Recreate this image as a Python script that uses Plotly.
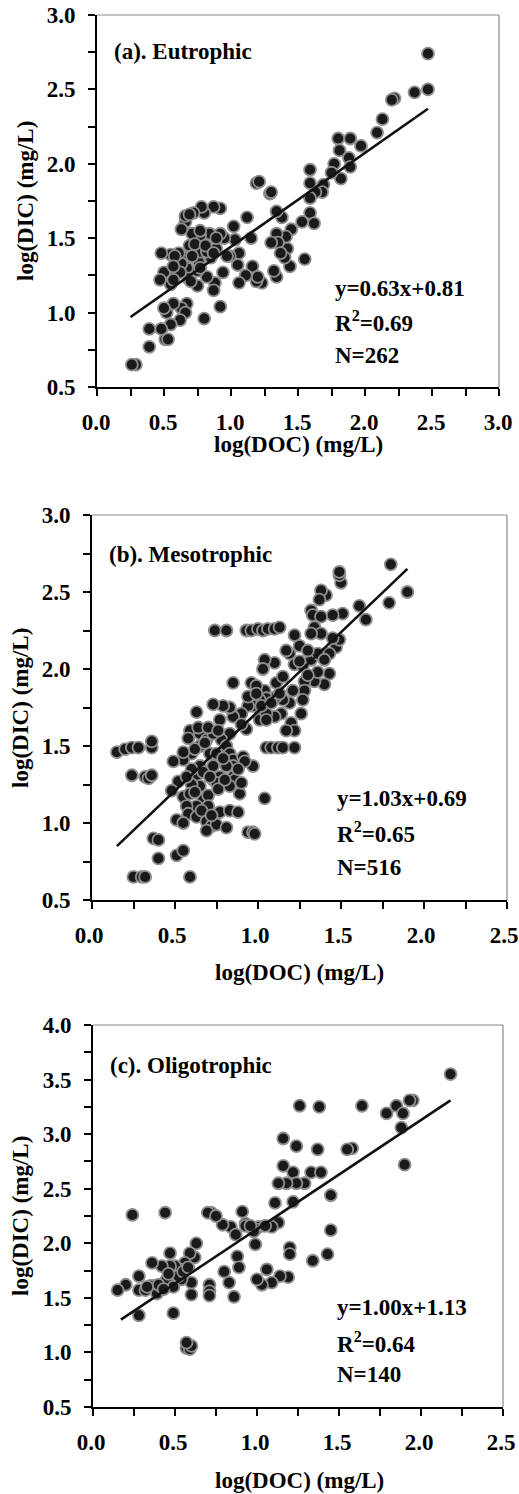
import plotly.graph_objects as go

# ---------------- data ----------------
eu_doc = [2.47, 2.47, 2.37, 2.22, 2.20, 2.13, 2.09, 1.97, 1.89, 1.80, 1.81, 1.88, 1.89, 1.77, 1.82, 1.75,
          1.69, 1.68, 1.63, 1.59, 1.59, 1.59, 1.59, 1.62, 1.53, 1.55, 1.45, 1.44, 1.42, 1.41, 1.40, 1.38,
          1.34, 1.34, 1.35, 1.37, 1.34, 1.32, 1.30, 1.29, 1.30, 1.19, 1.21, 1.23, 1.19, 1.16, 1.20, 1.12,
          1.15, 1.11, 1.06, 1.05, 1.03, 1.02, 1.06, 0.99, 0.97, 0.95, 0.94, 0.92, 0.92, 0.92, 0.89, 0.88,
          0.87, 0.87, 0.85, 0.84, 0.82, 0.80, 0.78, 0.78, 0.77, 0.80, 0.76, 0.75, 0.75, 0.72, 0.71, 0.69,
          0.67, 0.67, 0.66, 0.66, 0.68, 0.67, 0.63, 0.66, 0.62, 0.63, 0.61, 0.59, 0.57, 0.55, 0.55, 0.55,
          0.52, 0.51, 0.53, 0.50, 0.50, 0.48, 0.47, 0.48, 0.39, 0.39, 0.29, 0.26,
          0.77, 0.82, 0.73, 0.81, 0.89, 0.77, 0.70, 0.62, 0.57, 0.71, 0.87, 0.77, 0.69, 0.63, 0.58, 0.57]
eu_dic = [2.74, 2.50, 2.48, 2.44, 2.43, 2.30, 2.21, 2.12, 2.17, 2.17, 2.09, 2.04, 1.98, 2.00, 1.90, 1.94,
          1.86, 1.81, 1.81, 1.96, 1.87, 1.77, 1.67, 1.60, 1.61, 1.36, 1.56, 1.31, 1.43, 1.51, 1.37, 1.64,
          1.68, 1.53, 1.47, 1.40, 1.24, 1.28, 1.47, 1.80, 1.81, 1.87, 1.88, 1.20, 1.21, 1.31, 1.24, 1.64,
          1.50, 1.25, 1.20, 1.32, 1.49, 1.58, 1.40, 1.38, 1.38, 1.50, 1.27, 1.04, 1.53, 1.70, 1.43, 1.20,
          1.15, 1.71, 1.37, 1.53, 1.24, 1.67, 1.71, 1.47, 1.52, 0.96, 1.34, 1.18, 1.28, 1.67, 1.53, 1.45,
          1.30, 1.37, 1.61, 1.65, 1.23, 1.06, 1.03, 1.00, 0.95, 1.33, 1.40, 1.27, 1.06, 1.19, 1.39, 0.92,
          1.00, 0.82, 0.82, 1.03, 1.27, 1.40, 1.22, 0.89, 0.89, 0.77, 0.65, 0.65,
          1.41, 1.41, 1.46, 1.45, 1.50, 1.30, 1.21, 1.27, 1.22, 1.38, 1.40, 1.55, 1.66, 1.56, 1.38, 1.31]

meso_doc = [1.80, 1.90, 1.79, 1.65, 1.61, 1.51, 1.50, 1.49, 1.49, 1.45, 1.41, 1.38, 1.37, 1.32, 1.33, 1.38,
            1.34, 1.38, 1.32, 1.25, 1.22, 1.19, 1.17, 1.22, 1.27, 1.32, 1.36, 1.43, 1.40, 1.34, 1.28, 1.28,
            1.27, 1.26, 1.21, 1.19, 1.15, 1.20, 1.22, 1.17, 1.14, 1.10, 1.11, 1.11, 1.10, 1.04, 1.03, 1.04,
            1.05, 1.01, 1.02, 1.01, 0.97, 0.94, 0.96, 0.99, 0.94, 0.93, 0.90, 0.85, 0.85, 0.83, 0.79, 0.73,
            0.77, 0.83, 0.78, 0.63, 0.59, 0.58, 0.65, 0.69, 0.73, 0.65, 0.71, 0.81, 0.83, 0.85, 0.91, 0.97,
            0.85, 0.81, 0.73, 0.65, 0.60, 0.55, 0.55, 0.49, 0.63, 0.73, 0.77, 0.85, 0.86, 0.83, 0.75, 0.65,
            0.60, 0.52, 0.48, 0.55, 0.59, 0.67, 0.70, 0.89, 1.04, 0.63, 0.57, 0.70, 0.77, 0.83, 0.88, 0.58,
            0.63, 0.51, 0.55, 0.69, 0.72, 0.75, 0.81, 0.69, 0.94, 0.97, 0.98, 0.37, 0.40, 0.51, 0.55, 0.40,
            0.25, 0.30, 0.32, 0.59, 0.15, 0.20, 0.24, 0.28, 0.36, 0.36, 0.24, 0.32, 0.34, 0.36, 0.74, 0.81,
            0.93, 0.96, 1.00, 1.03, 1.06, 1.10, 1.13, 1.05, 1.08, 1.12, 1.15, 1.22, 0.92, 1.47, 1.49, 1.43,
            1.05, 1.05, 0.62, 0.68, 0.75, 0.79, 0.67, 0.71, 0.76, 0.80, 0.62, 0.66, 0.72, 0.60, 0.88, 0.90,
            0.57, 0.64, 0.70, 0.76, 1.02, 1.08, 1.15, 1.25, 1.30, 1.45, 1.40, 1.36, 1.30, 1.13, 0.99, 0.90]
meso_dic = [2.68, 2.50, 2.43, 2.32, 2.41, 2.36, 2.56, 2.61, 2.63, 2.35, 2.48, 2.51, 2.45, 2.38, 2.35, 2.34,
            2.27, 2.23, 2.23, 2.15, 2.22, 2.10, 2.12, 2.03, 2.02, 2.06, 2.10, 1.97, 1.90, 1.92, 1.92, 1.86,
            1.80, 1.71, 1.86, 1.78, 1.80, 1.65, 1.60, 1.60, 1.71, 1.69, 1.82, 1.91, 2.04, 2.06, 2.00, 1.86,
            1.81, 1.80, 1.71, 1.67, 1.76, 1.76, 1.91, 1.89, 1.82, 1.61, 1.71, 1.69, 1.91, 1.75, 1.76, 1.77,
            1.67, 1.58, 1.54, 1.72, 1.60, 1.55, 1.58, 1.54, 1.58, 1.50, 1.45, 1.50, 1.45, 1.41, 1.43, 1.37,
            1.37, 1.37, 1.37, 1.37, 1.45, 1.41, 1.46, 1.40, 1.31, 1.28, 1.30, 1.30, 1.28, 1.24, 1.26, 1.24,
            1.25, 1.27, 1.21, 1.17, 1.19, 1.15, 1.18, 1.19, 1.16, 1.11, 1.11, 1.11, 1.07, 1.08, 1.07, 1.06,
            1.04, 1.02, 1.00, 1.01, 0.98, 0.99, 0.97, 0.95, 0.94, 0.94, 0.93, 0.90, 0.89, 0.79, 0.82, 0.77,
            0.65, 0.65, 0.65, 0.65, 1.46, 1.48, 1.49, 1.49, 1.49, 1.53, 1.31, 1.30, 1.29, 1.31, 2.25, 2.25,
            2.25, 2.25, 2.26, 2.25, 2.26, 2.26, 2.27, 1.49, 1.49, 1.49, 1.49, 1.49, 1.40, 2.14, 2.19, 2.10,
            1.71, 1.67, 1.48, 1.52, 1.45, 1.42, 1.33, 1.30, 1.22, 1.28, 1.20, 1.08, 1.05, 1.35, 1.35, 1.26,
            1.30, 1.62, 1.62, 1.60, 1.76, 1.78, 1.95, 2.05, 2.12, 2.20, 2.06, 1.98, 1.96, 1.84, 1.84, 1.64]

oligo_doc = [2.18, 1.95, 1.93, 1.85, 1.79, 1.89, 1.88, 1.90, 1.64, 1.38, 1.26, 1.58, 1.55, 1.37, 1.24, 1.16,
             1.16, 1.22, 1.33, 1.39, 1.45, 1.11, 1.22, 1.29, 1.24, 1.18, 1.13, 1.13, 1.09, 1.01, 0.99, 0.93,
             0.91, 0.84, 0.79, 0.87, 0.98, 0.72, 0.70, 0.75, 0.99, 1.20, 1.20, 1.43, 1.34, 1.45, 1.19, 1.14,
             1.09, 1.06, 1.03, 1.00, 0.88, 0.89, 0.80, 0.83, 0.86, 0.71, 0.71, 0.71, 0.63, 0.62, 0.59, 0.60,
             0.60, 0.56, 0.53, 0.54, 0.50, 0.47, 0.47, 0.42, 0.45, 0.49, 0.37, 0.36, 0.35, 0.28, 0.32, 0.39,
             0.28, 0.20, 0.15, 0.49, 0.28, 0.24, 0.44, 0.57, 0.59, 0.60, 0.57,
             0.40, 0.43, 0.52, 0.55, 0.46, 0.33, 0.58, 0.93, 0.96, 1.05]
oligo_dic = [3.55, 3.31, 3.31, 3.26, 3.19, 3.19, 3.06, 2.72, 3.26, 3.25, 3.26, 2.87, 2.86, 2.86, 2.89, 2.96,
             2.71, 2.65, 2.65, 2.65, 2.44, 2.37, 2.38, 2.55, 2.55, 2.55, 2.55, 2.19, 2.15, 2.15, 2.13, 2.18,
             2.29, 2.15, 2.17, 2.08, 2.11, 2.28, 2.28, 2.25, 1.99, 1.96, 1.90, 1.90, 1.84, 2.12, 1.69, 1.70,
             1.64, 1.76, 1.62, 1.67, 1.88, 1.78, 1.74, 1.64, 1.51, 1.62, 1.56, 1.52, 2.00, 1.87, 1.91, 1.64,
             1.53, 1.82, 1.76, 1.67, 1.79, 1.91, 1.79, 1.79, 1.67, 1.60, 1.61, 1.82, 1.61, 1.57, 1.57, 1.54,
             1.70, 1.62, 1.57, 1.36, 1.34, 2.26, 2.28, 1.04, 1.03, 1.06, 1.09,
             1.62, 1.58, 1.70, 1.74, 1.72, 1.60, 1.78, 2.16, 2.16, 2.16]

# regression line end points
eu_fit_x, eu_fit_y = [0.25, 2.47], [0.97, 2.37]
meso_fit_x, meso_fit_y = [0.15, 1.90], [0.85, 2.65]
oligo_fit_x, oligo_fit_y = [0.17, 2.18], [1.30, 3.31]

panel_titles = ["(a). Eutrophic", "(b). Mesotrophic", "(c). Oligotrophic"]
equations = [["y=0.63x+0.81", "R<sup>2</sup>=0.69", "N=262"],
             ["y=1.03x+0.69", "R<sup>2</sup>=0.65", "N=516"],
             ["y=1.00x+1.13", "R<sup>2</sup>=0.64", "N=140"]]
x_label = "log(DOC) (mg/L)"
y_label = "log(DIC) (mg/L)"
x_ranges = [[0, 3.0], [0, 2.5], [0, 2.5]]
y_ranges = [[0.5, 3.0], [0.5, 3.0], [0.5, 4.0]]
x_ticks = [[0.0, 0.5, 1.0, 1.5, 2.0, 2.5, 3.0], [0.0, 0.5, 1.0, 1.5, 2.0, 2.5], [0.0, 0.5, 1.0, 1.5, 2.0, 2.5]]
y_ticks = [[0.5, 1.0, 1.5, 2.0, 2.5, 3.0], [0.5, 1.0, 1.5, 2.0, 2.5, 3.0],
           [0.5, 1.0, 1.5, 2.0, 2.5, 3.0, 3.5, 4.0]]

# ---------------- layout geometry (page pixels) ----------------
W, H = 519, 1494
FONT = "Liberation Serif"
FS = 23
# (left, right, top, bottom) of each plot frame
frames = [(97, 499, 15, 387), (92, 507, 515, 900), (93, 503, 1025, 1407)]
xlabel_shift = [-1, -3, -2]
title_pos = [(112, 52), (107, 555), (108, 1065)]
eq_pos = [(333, [289, 321, 355]), (335, [798, 832, 867]), (335, [1307, 1342, 1374])]
xlab_pos = [(298, 445), (299, 972), (299, 1480)]
ylab_pos = [(25, 201), (20, 708), (20, 1216)]

def px(x):
    return x / W

def py(y):
    return 1 - y / H

fig = go.Figure()
series = [(eu_doc, eu_dic, eu_fit_x, eu_fit_y),
          (meso_doc, meso_dic, meso_fit_x, meso_fit_y),
          (oligo_doc, oligo_dic, oligo_fit_x, oligo_fit_y)]

annotations = []
shapes = []
for i, (xd, yd, fx, fy) in enumerate(series):
    n = "" if i == 0 else str(i + 1)
    xa, ya = "x" + n, "y" + n
    fig.add_trace(go.Scatter(x=xd, y=yd, mode="markers", xaxis=xa, yaxis=ya,
                             marker=dict(size=12, color="#1a1a1a",
                                         line=dict(color="#8f8f8f", width=1.8)),
                             showlegend=False, hoverinfo="skip", cliponaxis=False))
    fig.add_trace(go.Scatter(x=fx, y=fy, mode="lines", xaxis=xa, yaxis=ya,
                             line=dict(color="#111111", width=2.6),
                             showlegend=False, hoverinfo="skip"))
    l, r, t, b = frames[i]
    axcommon = dict(showline=True, linecolor="black", linewidth=2, ticks="outside",
                    ticklen=7, tickwidth=2, tickcolor="black", showgrid=False, zeroline=False,
                    automargin=False, ticklabeloverflow="allow",
                    tickfont=dict(family=FONT, size=23, color="black"),
                    minor=dict(dtick=0.25, ticks="outside", ticklen=7, tickwidth=2,
                               tickcolor="black", showgrid=False))
    fig.layout["xaxis" + n] = dict(domain=[px(l), px(r)], range=x_ranges[i], anchor=ya,
                                   tickvals=x_ticks[i],
                                   ticktext=[f"<b>{v:.1f}</b>" for v in x_ticks[i]],
                                   ticklabelstandoff=6, ticklabelshift=xlabel_shift[i], **axcommon)
    fig.layout["yaxis" + n] = dict(domain=[py(b), py(t)], range=y_ranges[i], anchor=xa,
                                   tickvals=y_ticks[i],
                                   ticktext=[f"<b>{v:.1f}</b>" for v in y_ticks[i]],
                                   ticklabelstandoff=8, **axcommon)
    # thin gray top / right borders
    shapes.append(dict(type="line", xref="paper", yref="paper", x0=px(l), x1=px(r), y0=py(t), y1=py(t),
                       line=dict(color="#8a8a8a", width=1.2)))
    shapes.append(dict(type="line", xref="paper", yref="paper", x0=px(r), x1=px(r), y0=py(t), y1=py(b),
                       line=dict(color="#8a8a8a", width=1.2)))
    annotations.append(dict(text="<b>" + panel_titles[i] + "</b>", x=px(title_pos[i][0]), y=py(title_pos[i][1]),
                            xref="paper", yref="paper", xanchor="left", yanchor="middle", showarrow=False,
                            font=dict(family=FONT, size=FS, color="black")))
    ex, eys = eq_pos[i]
    for txt, ey in zip(equations[i], eys):
        annotations.append(dict(text="<b>" + txt + "</b>", x=px(ex), y=py(ey), xref="paper", yref="paper",
                                xanchor="left", yanchor="middle", showarrow=False,
                                font=dict(family=FONT, size=FS, color="black")))
    annotations.append(dict(text="<b>" + x_label + "</b>", x=px(xlab_pos[i][0]), y=py(xlab_pos[i][1]),
                            xref="paper", yref="paper", xanchor="center", yanchor="middle", showarrow=False,
                            font=dict(family=FONT, size=FS, color="black")))
    annotations.append(dict(text="<b>" + y_label + "</b>", x=px(ylab_pos[i][0]), y=py(ylab_pos[i][1]),
                            xref="paper", yref="paper", xanchor="center", yanchor="middle", showarrow=False,
                            textangle=-90, font=dict(family=FONT, size=FS, color="black")))

fig.update_layout(width=W, height=H, autosize=False, margin=dict(l=0, r=0, t=0, b=0, autoexpand=False),
                  paper_bgcolor="white", plot_bgcolor="white",
                  annotations=annotations, shapes=shapes)

# remove the default 8px page margin so the figure fills the window exactly
fig.write_html("out.html", config={"displayModeBar": False},
               post_script="document.body.style.margin='0';")
